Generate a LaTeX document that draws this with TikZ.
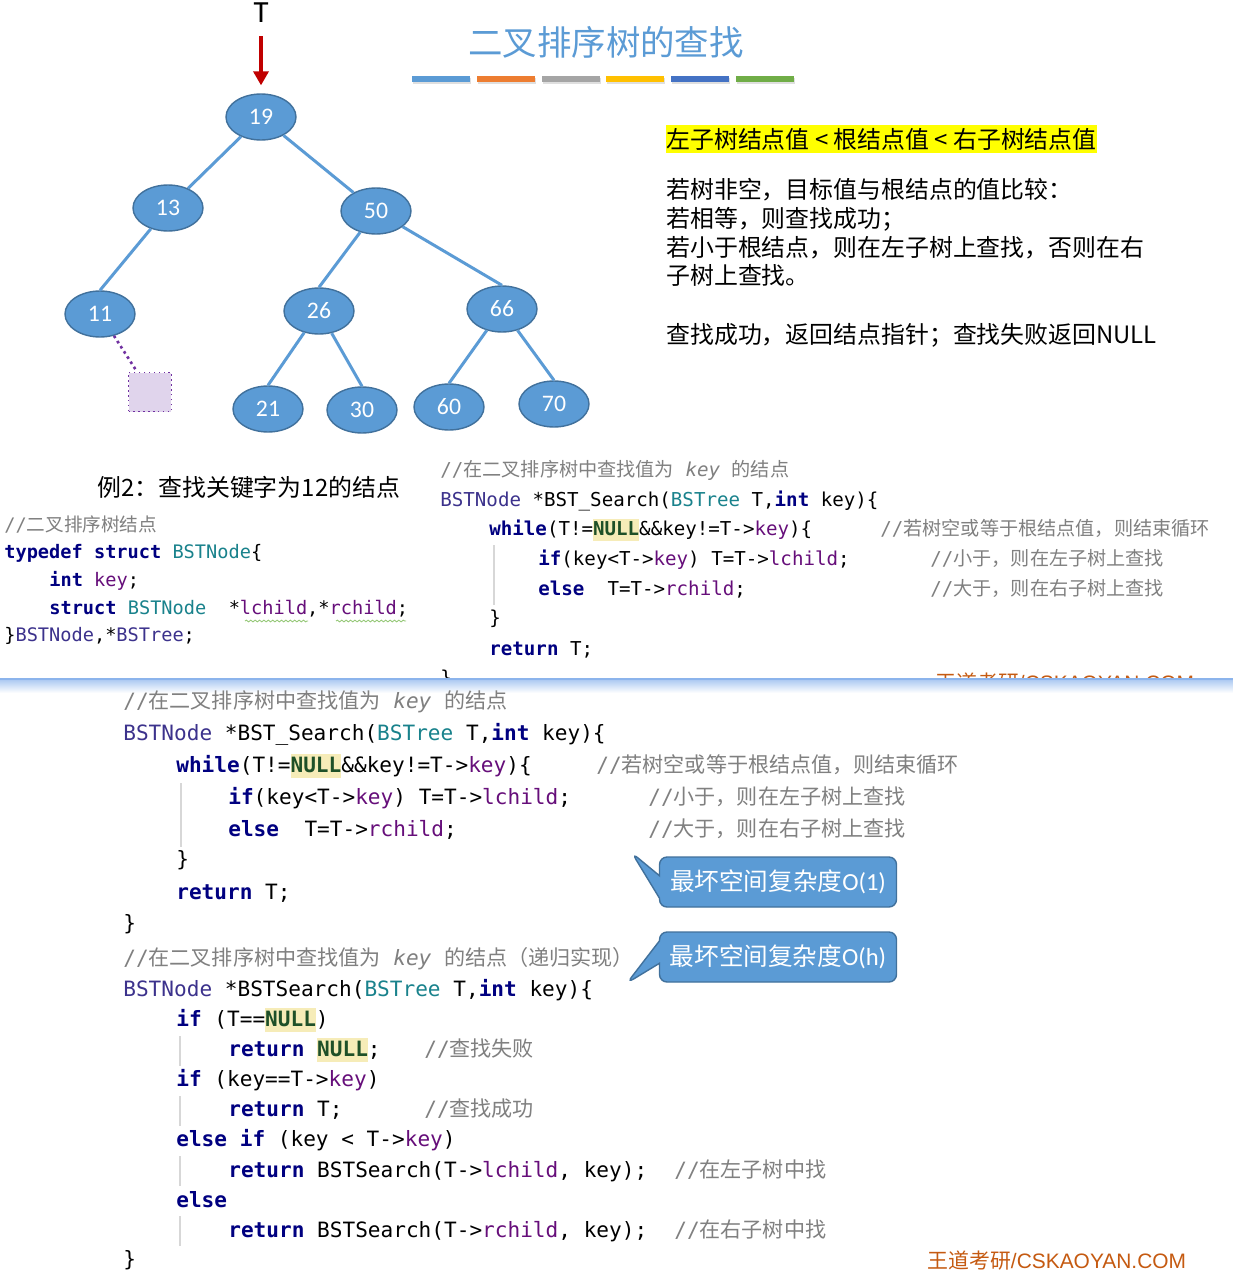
\documentclass[tikz,border=0pt]{standalone}
\usepackage{fontspec}
\setmainfont{Noto Sans CJK SC}
\setmonofont{DejaVu Sans Mono}
\newfontfamily\zh{Noto Sans CJK SC}
\newfontfamily\carl{Carlito}
\newfontfamily\arial{Liberation Sans}
\usepackage{tikz}
\usetikzlibrary{shapes.geometric,shapes.callouts,arrows.meta,positioning,
                shadows,decorations.pathmorphing}
\usepackage{xcolor}
\definecolor{cNode}{RGB}{91,155,213}
\definecolor{cNodeLine}{RGB}{65,113,156}
\definecolor{cArrow}{RGB}{192,0,0}
\definecolor{cNil}{RGB}{224,212,236}
\definecolor{cNilLine}{RGB}{112,48,160}
\definecolor{cBarA}{RGB}{91,155,213}
\definecolor{cBarB}{RGB}{237,125,49}
\definecolor{cBarC}{RGB}{165,165,165}
\definecolor{cBarD}{RGB}{255,192,0}
\definecolor{cBarE}{RGB}{68,114,196}
\definecolor{cBarF}{RGB}{112,173,71}
\definecolor{cMark}{RGB}{255,255,0}
\definecolor{cKw}{RGB}{0,0,128}
\definecolor{cFd}{RGB}{102,14,122}
\definecolor{cCm}{RGB}{128,128,128}
\definecolor{cTy}{RGB}{25,130,140}
\definecolor{cCls}{RGB}{60,50,140}
\definecolor{cNull}{RGB}{30,80,40}
\definecolor{cNullBg}{RGB}{246,236,184}
\definecolor{cWater}{RGB}{197,90,17}
\definecolor{cSep}{RGB}{140,180,236}
\definecolor{cGuide}{RGB}{215,215,215}
\definecolor{cWave}{RGB}{150,200,120}
% code colouring
\newcommand{\kw}[1]{\textcolor{cKw}{\bfseries #1}}
\newcommand{\fd}[1]{\textcolor{cFd}{#1}}
\newcommand{\ty}[1]{\textcolor{cTy}{#1}}
\newcommand{\cls}[1]{\textcolor{cCls}{#1}}
\newcommand{\cmt}[1]{\textcolor{cCm}{#1}}
\newcommand{\nul}{{\setlength{\fboxsep}{0pt}\colorbox{cNullBg}{\rule[-0.25em]{0pt}{1.1em}\textcolor{cNull}{\bfseries NULL}}}}
\tikzset{
  treenode/.style={ellipse,draw=cNodeLine,line width=0.8pt,fill=cNode,text=white,
                   font=\carl\fontsize{13.5}{16}\selectfont,
                   minimum width=1.4cm,minimum height=0.92cm,inner sep=0pt},
  treeedge/.style={draw=cNode,line width=1.7pt},
  nilnode/.style={rectangle,fill=cNil,draw=cNilLine,dotted,line width=0.8pt,
                  minimum width=0.86cm,minimum height=0.78cm},
  nilarr/.style={draw=cNilLine,dotted,line width=1.5pt},
  rootarr/.style={-{Triangle[length=8pt,width=8.5pt]},draw=cArrow,line width=2.2pt},
  bar/.style={rectangle,minimum width=1.16cm,minimum height=0.12cm,inner sep=0pt,
              drop shadow={opacity=0.25,shadow xshift=0.6pt,shadow yshift=-1pt}},
  notetext/.style={anchor=west,inner sep=0pt,font=\fontsize{13.6}{16}\selectfont,
                   text height=12pt,text depth=1.6pt},
  codeA/.style={anchor=west,inner sep=0pt,font=\ttfamily\fontsize{10.6}{12}\selectfont,
                text height=8.5pt,text depth=2.1pt},
  codeB/.style={anchor=west,inner sep=0pt,font=\ttfamily\fontsize{10.9}{13}\selectfont,
                text height=8.7pt,text depth=2.2pt},
  codeC/.style={anchor=west,inner sep=0pt,font=\ttfamily\fontsize{12}{14}\selectfont,
                text height=9.6pt,text depth=2.4pt},
  guide/.style={draw=cGuide,line width=0.6pt},
  wavy/.style={draw=cWave,line width=0.5pt,decorate,
               decoration={snake,amplitude=0.5pt,segment length=2.5pt}},
  water/.style={anchor=west,inner sep=0pt,text=cWater,
                font=\arial\fontsize{11.9}{14}\selectfont},
  costbox/.style={rectangle callout,rounded corners=0.15cm,fill=cNode,draw=cNodeLine,
                  line width=0.8pt,text=white,font=\fontsize{14}{16}\selectfont,
                  minimum width=4.74cm,minimum height=1cm,callout pointer width=0.45cm}
}
\begin{document}
\begin{tikzpicture}[x=0.02cm,y=-0.02cm]
  \path[fill=white,use as bounding box] (0,0) rectangle (1233,1274);

  % the tree
  \node[font=\carl\fontsize{17.5}{20}\selectfont,inner sep=0pt] (T) at (261,13) {T};
  \node[treenode] (n19) at (261,117) {19};
  \node[treenode] (n13) at (168,208) {13};
  \node[treenode] (n50) at (376,211) {50};
  \node[treenode] (n11) at (100,314) {11};
  \node[treenode] (n26) at (319,311) {26};
  \node[treenode] (n66) at (502,309) {66};
  \node[treenode] (n21) at (268,409) {21};
  \node[treenode] (n30) at (362,410) {30};
  \node[treenode] (n60) at (449,407) {60};
  \node[treenode] (n70) at (554,404) {70};
  \node[nilnode] (nil) at (150,392) {};

  \draw[rootarr,shorten <=7.5pt,shorten >=4.5pt] (T) -- (n19);
  \draw[treeedge] (n19) -- (n13);
  \draw[treeedge] (n19) -- (n50);
  \draw[treeedge] (n13) -- (n11.north);
  \draw[treeedge] (n50) -- (n26.north);
  \draw[treeedge] (n50) -- (n66.north);
  \draw[treeedge] (n26) -- (n21.north);
  \draw[treeedge] (n26) -- (n30.north);
  \draw[treeedge] (n66) -- (n60.north);
  \draw[treeedge] (n66) -- (n70.north);
  \draw[nilarr] (n11) -- (nil);

  % title and colour bars
  \node[font=\fontsize{19.6}{22}\selectfont,text=cNode] (title) at (606,42) {二叉排序树的查找};
  \foreach \c [count=\i] in {cBarA,cBarB,cBarC,cBarD,cBarE,cBarF}
    \node[bar,fill=\c] (bar\i) at ({441+64.8*(\i-1)},79) {};

  % notes on the right
  \node[notetext,fill=cMark,inner ysep=1.2pt] (rule) at (666,139)
      {左子树结点值 < 根结点值 < 右子树结点值};
  \node[notetext] (s1) at (666,189) {若树非空，目标值与根结点的值比较：};
  \node[notetext] (s2) at (666,218) {若相等，则查找成功；};
  \node[notetext] (s3) at (666,247) {若小于根结点，则在左子树上查找，否则在右};
  \node[notetext] (s4) at (666,275) {子树上查找。};
  \node[notetext] (s5) at (666,334) {查找成功，返回结点指针；查找失败返回NULL};
  \node[notetext] (ex) at (97,487) {例2：查找关键字为12的结点};

  % struct
  \node[codeA] (a1) at (4,526) {\cmt{//\zh 二叉排序树结点}};
  \node[codeA] (a2) at (4,553) {\kw{typedef} \kw{struct} \ty{BSTNode}\{};
  \node[codeA] (a3) at (49,581) {\kw{int} \fd{key};};
  \node[codeA] (a4) at (49,609) {\kw{struct} \ty{BSTNode}\ \ *\fd{lchild},*\fd{rchild};};
  \node[codeA] (a5) at (4,636) {\}\cls{BSTNode},*\cls{BSTree};};
  \draw[wavy] (245,621) -- (308,621);
  \draw[wavy] (336,621) -- (406,621);

  % search, top slide
  \node[codeB] (b1) at (440,471)
      {\cmt{//{\zh 在二叉排序树中查找值为} \textit{key} {\zh 的结点}}};
  \node[codeB] (b2) at (440,501) {\cls{BSTNode} *BST\_Search(\ty{BSTree} T,\kw{int} key)\{};
  \node[codeB] (b3) at (489,530) {\kw{while}(T!=\nul\&\&key!=T->\fd{key})\{};
  \node[codeB] (b3c) at (880,530) {\cmt{//\zh 若树空或等于根结点值，则结束循环}};
  \node[codeB] (b4) at (538,560) {\kw{if}(key<T->\fd{key}) T=T->\fd{lchild};};
  \node[codeB] (b4c) at (930,560) {\cmt{//\zh 小于，则在左子树上查找}};
  \node[codeB] (b5) at (538,590) {\kw{else}\ \ T=T->\fd{rchild};};
  \node[codeB] (b5c) at (930,590) {\cmt{//\zh 大于，则在右子树上查找}};
  \node[codeB] (b6) at (489,619) {\}};
  \node[codeB] (b7) at (489,650) {\kw{return} T;};
  \node[codeB] (b8) at (440,679) {\}};
  \node[water] (wm1) at (935,683) {{\zh 王道考研}/CSKAOYAN.COM};
  \draw[guide] (494,545) -- (494,605);

  % slide border
  \fill[cSep] (0,678) rectangle (1233,680);
  \shade[top color=cSep!70,bottom color=white] (0,680) rectangle (1233,693);

  % search, bottom slide
  \node[codeC] (c1) at (123,702)
      {\cmt{//{\zh 在二叉排序树中查找值为} \textit{key} {\zh 的结点}}};
  \node[codeC] (c2) at (123,734) {\cls{BSTNode} *BST\_Search(\ty{BSTree} T,\kw{int} key)\{};
  \node[codeC] (c3) at (176,766) {\kw{while}(T!=\nul\&\&key!=T->\fd{key})\{};
  \node[codeC] (c3c) at (596,766) {\cmt{//\zh 若树空或等于根结点值，则结束循环}};
  \node[codeC] (c4) at (228,798) {\kw{if}(key<T->\fd{key}) T=T->\fd{lchild};};
  \node[codeC] (c4c) at (648,798) {\cmt{//\zh 小于，则在左子树上查找}};
  \node[codeC] (c5) at (228,830) {\kw{else}\ \ T=T->\fd{rchild};};
  \node[codeC] (c5c) at (648,830) {\cmt{//\zh 大于，则在右子树上查找}};
  \node[codeC] (c6) at (176,860) {\}};
  \node[codeC] (c7) at (176,893) {\kw{return} T;};
  \node[codeC] (c8) at (123,924) {\}};
  \draw[guide] (181,783) -- (181,847);

  \node[codeC] (c9) at (123,959)
      {\cmt{//{\zh 在二叉排序树中查找值为} \textit{key} {\zh 的结点（递归实现）}}};
  \node[codeC] (c10) at (123,990) {\cls{BSTNode} *BSTSearch(\ty{BSTree} T,\kw{int} key)\{};
  \node[codeC] (c11) at (176,1020) {\kw{if} (T==\nul)};
  \node[codeC] (c12) at (228,1050) {\kw{return} \nul;};
  \node[codeC] (c12c) at (424,1050) {\cmt{//\zh 查找失败}};
  \node[codeC] (c13) at (176,1080) {\kw{if} (key==T->\fd{key})};
  \node[codeC] (c14) at (228,1110) {\kw{return} T;};
  \node[codeC] (c14c) at (424,1110) {\cmt{//\zh 查找成功}};
  \node[codeC] (c15) at (176,1140) {\kw{else} \kw{if} (key < T->\fd{key})};
  \node[codeC] (c16) at (228,1171) {\kw{return} BSTSearch(T->\fd{lchild}, key);};
  \node[codeC] (c16c) at (674,1171) {\cmt{//\zh 在左子树中找}};
  \node[codeC] (c17) at (176,1201) {\kw{else}};
  \node[codeC] (c18) at (228,1231) {\kw{return} BSTSearch(T->\fd{rchild}, key);};
  \node[codeC] (c18c) at (674,1231) {\cmt{//\zh 在右子树中找}};
  \node[codeC] (c19) at (123,1260) {\}};
  \draw[guide] (180,1036) -- (180,1066);
  \draw[guide] (180,1096) -- (180,1126);
  \draw[guide] (180,1156) -- (180,1186);
  \draw[guide] (180,1216) -- (180,1246);
  \node[water] (wm2) at (927,1261) {{\zh 王道考研}/CSKAOYAN.COM};

  % space cost callouts
  \coordinate (tip1) at (632,853);
  \coordinate (tip2) at (627,983);
  \node[costbox,callout absolute pointer=(tip1)] (cost1) at (778,882)
      {最坏空间复杂度{\carl O(1)}};
  \node[costbox,callout absolute pointer=(tip2)] (costh) at (778,957)
      {最坏空间复杂度{\carl O(h)}};
\end{tikzpicture}
\end{document}
